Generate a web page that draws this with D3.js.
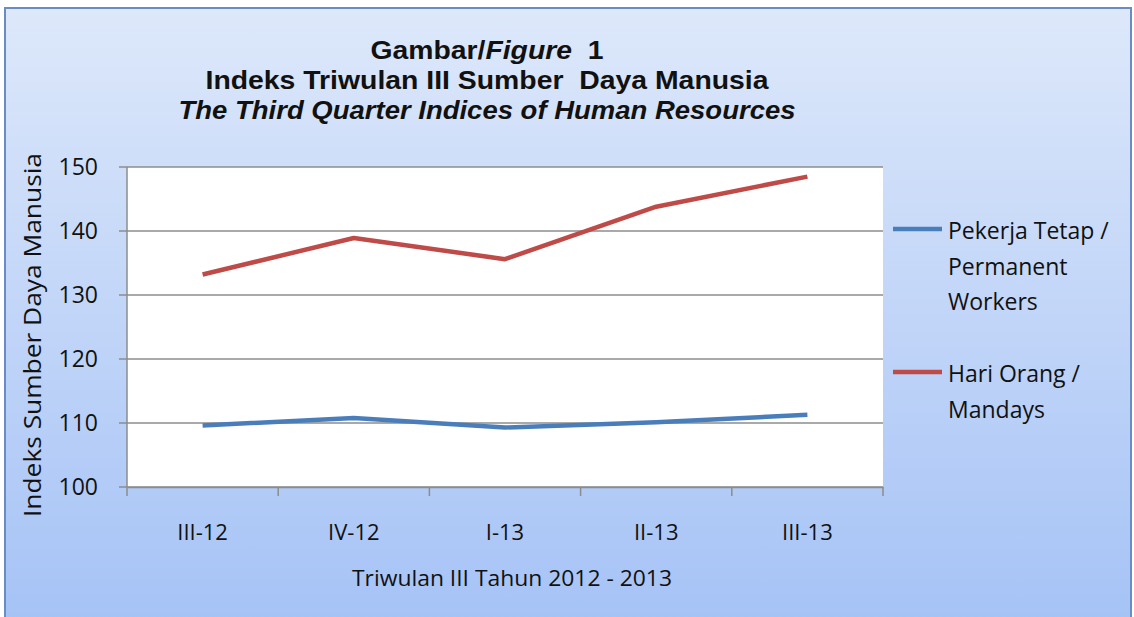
<!DOCTYPE html>
<html><head><meta charset="utf-8">
<script src="https://cdn.jsdelivr.net/npm/d3@7"></script>
<style>body{margin:0;background:#fff;} svg{display:block;}</style>
</head><body>
<svg id="c" width="1134" height="617"></svg>
<script>
const categories = ["III-12","IV-12","I-13","II-13","III-13"];
const permanentWorkers = [109.6, 110.8, 109.3, 110.1, 111.3];
const mandays = [133.2, 138.9, 135.6, 143.8, 148.5];
const yTicks = [100,110,120,130,140,150];
const seriesNames = [["Pekerja Tetap /","Permanent","Workers"],["Hari Orang /","Mandays"]];
const colors = ["#4a7ebb","#be4b48"];

const svg = d3.select("#c");
const FONT = "'Open Sans',sans-serif";
const TFONT = "'Liberation Sans',Arial,sans-serif";
const defs = svg.append("defs");
const g = defs.append("linearGradient").attr("id","bg").attr("x1",0).attr("y1",0).attr("x2",0).attr("y2",1);
g.append("stop").attr("offset","0%").attr("stop-color","#dde8fa");
g.append("stop").attr("offset","100%").attr("stop-color","#a6c3f6");

svg.append("rect").attr("x",5).attr("y",8).attr("width",1126).attr("height",612)
  .attr("fill","url(#bg)").attr("stroke","#6a8cc4").attr("stroke-width",2);

const L=127, R=883, T=167, B=487;
const x = d3.scaleBand().domain(categories).range([L,R]);
const y = d3.scaleLinear().domain([100,150]).range([B,T]);

svg.append("rect").attr("x",L).attr("y",T).attr("width",R-L).attr("height",B-T).attr("fill","#fff");

// gridlines
svg.append("g").selectAll("line").data(yTicks).join("line")
  .attr("x1",L-8).attr("x2",R).attr("y1",d=>y(d)).attr("y2",d=>y(d))
  .attr("stroke","#8c8c8c").attr("stroke-width",1.5);
svg.append("line").attr("x1",L).attr("x2",L).attr("y1",T).attr("y2",B).attr("stroke","#8c8c8c").attr("stroke-width",1.5);

// x axis
const xa = svg.append("g").attr("transform",`translate(0,${B})`)
  .call(d3.axisBottom(x).tickSize(0).tickPadding(37));
xa.select(".domain").attr("stroke","#8c8c8c").attr("stroke-width",1.5);
xa.selectAll("text").attr("font-family",FONT).attr("font-size",22).attr("fill","#111");
const bounds = categories.map(c=>x(c)).concat([R]);
svg.append("g").selectAll("line").data(bounds).join("line")
  .attr("x1",d=>d).attr("x2",d=>d).attr("y1",B).attr("y2",B+9).attr("stroke","#8c8c8c").attr("stroke-width",1.5);

// y axis labels
svg.append("g").selectAll("text").data(yTicks).join("text")
  .attr("x",L-29).attr("y",d=>y(d)).attr("dy","0.36em").attr("text-anchor","end")
  .attr("font-family",FONT).attr("font-size",23).attr("fill","#111").text(d=>d);

// lines
const line = d3.line().x((d,i)=>x(categories[i])+x.bandwidth()/2).y(d=>y(d));
[permanentWorkers,mandays].forEach((s,i)=>{
  svg.append("path").datum(s).attr("d",line).attr("fill","none")
    .attr("stroke",colors[i]).attr("stroke-width",4.5).attr("stroke-linejoin","round");
});

// titles
function titleLine(yy, len, build){
  const t = svg.append("text").attr("x",487).attr("y",yy).attr("text-anchor","middle")
    .attr("font-family",TFONT).attr("font-weight","bold").attr("font-size",25).attr("fill","#111")
    .attr("textLength",len).attr("lengthAdjust","spacingAndGlyphs");
  build(t);
}
titleLine(59, 233, t=>{
  t.append("tspan").text("Gambar/");
  t.append("tspan").attr("font-style","italic").text("Figure");
  t.append("tspan").text("\u00a0\u00a01");
});
titleLine(89, 563, t=>t.text("Indeks Triwulan III Sumber\u00a0\u00a0Daya Manusia"));
titleLine(119, 617, t=>t.attr("font-style","italic").text("The Third Quarter Indices of Human Resources"));

// axis titles
svg.append("text").attr("transform","translate(41,335) rotate(-90)").attr("text-anchor","middle")
  .attr("font-family",FONT).attr("font-size",24).attr("fill","#111")
  .attr("textLength",364).attr("lengthAdjust","spacingAndGlyphs").text("Indeks Sumber Daya Manusia");
svg.append("text").attr("x",512).attr("y",586).attr("text-anchor","middle")
  .attr("font-family",FONT).attr("font-size",22).attr("fill","#111")
  .attr("textLength",320).attr("lengthAdjust","spacingAndGlyphs").text("Triwulan III Tahun 2012 - 2013");

// legend
const ly = [229, 372];
seriesNames.forEach((lines,i)=>{
  svg.append("line").attr("x1",893).attr("x2",942).attr("y1",ly[i]).attr("y2",ly[i])
    .attr("stroke",colors[i]).attr("stroke-width",4.5);
  lines.forEach((t,j)=>{
    svg.append("text").attr("x",948).attr("y",ly[i]+10+j*35.5)
      .attr("font-family",FONT).attr("font-size",23).attr("fill","#111").text(t);
  });
});
</script>
</body></html>
